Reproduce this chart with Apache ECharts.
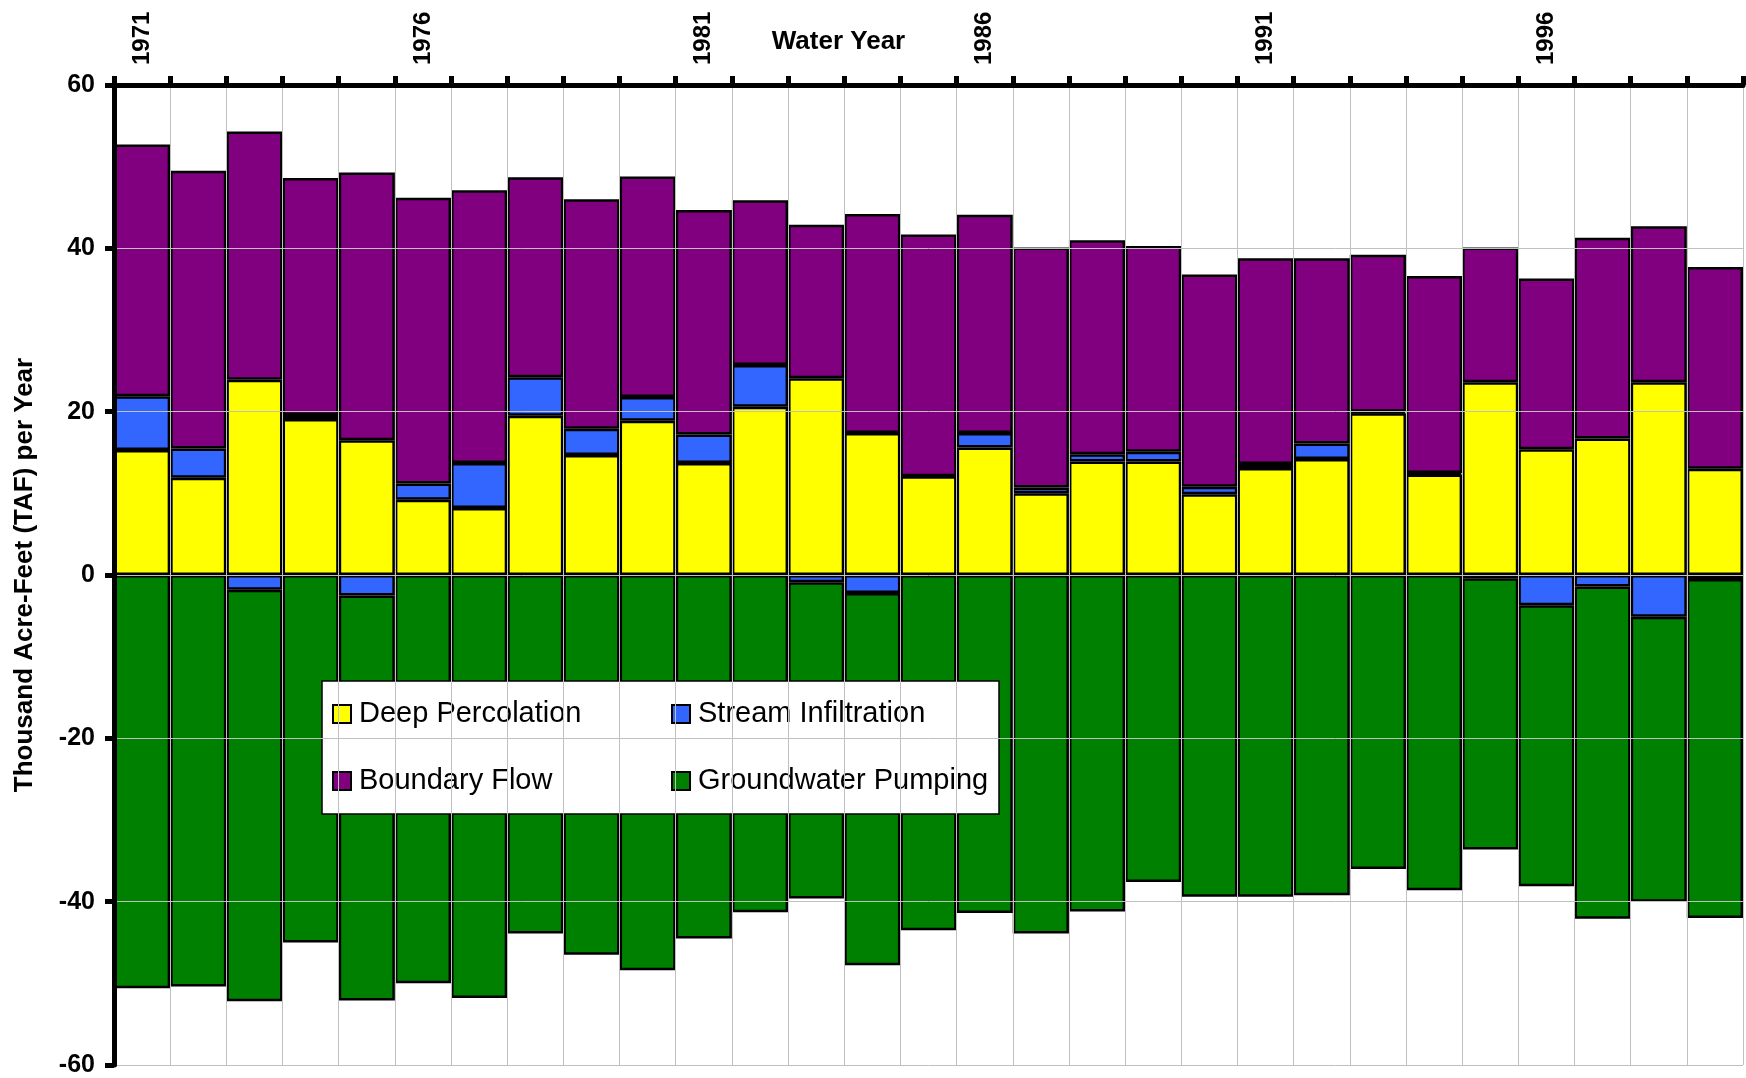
<!DOCTYPE html>
<html>
<head>
<meta charset="utf-8">
<title>Water Year budget</title>
<script src="https://cdn.jsdelivr.net/npm/echarts@6/dist/echarts.min.js"></script>
<style>
    html,body{margin:0;padding:0;background:#fff;}
    #main{width:1746px;height:1078px;}
</style>
</head>
<body>
<div id="main"></div>
<script>
// water years
var years=['1971','1972','1973','1974','1975','1976','1977','1978','1979','1980',
    '1981','1982','1983','1984','1985','1986','1987','1988','1989','1990',
    '1991','1992','1993','1994','1995','1996','1997','1998','1999'];

// TAF per year
var deepPercolation=[15.3,11.9,23.9,19.1,16.5,9.2,8.2,19.5,14.7,18.9,
    13.7,20.6,24.1,17.4,12.1,15.6,10.0,13.9,13.9,9.9,
    13.1,14.2,19.8,12.3,23.6,15.4,16.7,23.6,13.0];
var streamInfiltration=[6.6,3.6,-1.8,0.5,-2.5,2.0,5.5,4.7,3.2,2.9,
    3.5,5.1,-0.9,-2.2,0,1.8,0.7,0.9,1.2,0.9,
    0.5,1.9,0.2,0.2,-0.4,-3.7,-1.4,-5.1,-0.5];
var boundaryFlow=[30.8,34.0,30.4,29.0,32.8,35.0,33.4,24.5,28.1,27.0,
    27.5,20.2,18.8,26.8,29.6,26.7,29.4,26.2,25.2,26.0,
    25.2,22.7,19.2,24.1,16.5,20.9,24.6,19.1,24.7];
var groundwaterPumping=[-50.6,-50.4,-50.4,-45.0,-49.6,-50.0,-51.8,-43.9,-46.5,-48.4,
    -44.5,-41.3,-38.7,-45.6,-43.5,-41.4,-43.9,-41.2,-37.6,-39.4,
    -39.4,-39.2,-36.0,-38.6,-33.2,-34.4,-40.7,-34.9,-41.5];

var yTicks=[-60,-40,-20,0,20,40,60];

var FONT='"Liberation Sans", Arial, sans-serif';

function barSeries(name,data,color){
    return {
        name:name,
        type:'bar',
        stack:'budget',
        barCategoryGap:0,
        data:data,
        itemStyle:{
            color:color,
            borderColor:'#000',
            borderWidth:2.5
        }
    };
}

var chart=echarts.init(document.getElementById('main'));

var option={
    animation:false,
    textStyle:{fontFamily:FONT},
    grid:{left:114,right:3,top:85,bottom:13,outerBoundsMode:'none',containLabel:false},
    graphic:[{
        // legend box
        type:'rect',
        z:5,
        shape:{x:322,y:681,width:677,height:133},
        style:{fill:'#fff',stroke:'#000',lineWidth:1.5}
    }],
    legend:[{
        orient:'vertical',
        left:332,top:699,padding:0,z:6,
        itemWidth:18,itemHeight:18,itemGap:37,
        icon:'rect',
        textStyle:{fontSize:29,lineHeight:30,color:'#000',fontFamily:FONT,padding:[0,0,0,3]},
        data:['Deep Percolation','Boundary Flow']
    },{
        orient:'vertical',
        left:671,top:699,padding:0,z:6,
        itemWidth:18,itemHeight:18,itemGap:37,
        icon:'rect',
        textStyle:{fontSize:29,lineHeight:30,color:'#000',fontFamily:FONT,padding:[0,0,0,3]},
        data:['Stream Infiltration','Groundwater Pumping']
    }],
    xAxis:{
        type:'category',
        position:'top',
        z:10,
        data:years,
        name:'Water Year',
        nameLocation:'middle',
        nameGap:30,
        nameMoveOverlap:false,
        nameTextStyle:{fontSize:26,fontWeight:'bold',color:'#000',padding:[0,180,0,0]},
        axisLine:{onZero:false,lineStyle:{color:'#000',width:5}},
        axisTick:{show:true,interval:0,length:9,lineStyle:{color:'#000',width:5}},
        axisLabel:{interval:4,rotate:-90,margin:20,fontSize:24,fontWeight:'bold',color:'#000'},
        splitLine:{show:true,interval:0,lineStyle:{color:'#c0c0c0',width:1}}
    },
    yAxis:{
        type:'value',
        z:10,
        min:yTicks[0],
        max:yTicks[yTicks.length-1],
        interval:20,
        name:'Thousand Acre-Feet (TAF) per Year',
        nameLocation:'middle',
        nameGap:76,
        nameMoveOverlap:false,
        nameTextStyle:{fontSize:26,fontWeight:'bold',color:'#000'},
        axisLine:{show:true,onZero:false,lineStyle:{color:'#000',width:5}},
        axisTick:{show:true,length:9,lineStyle:{color:'#000',width:5}},
        axisLabel:{margin:19,fontSize:25,fontWeight:'bold',color:'#000'},
        splitLine:{show:true,lineStyle:{color:'#c0c0c0',width:1}}
    },
    series:[
        barSeries('Deep Percolation',deepPercolation,'#ffff00'),
        barSeries('Stream Infiltration',streamInfiltration,'#3366ff'),
        barSeries('Boundary Flow',boundaryFlow,'#800080'),
        barSeries('Groundwater Pumping',groundwaterPumping,'#008000')
    ]
};

chart.setOption(option);
</script>
</body>
</html>
